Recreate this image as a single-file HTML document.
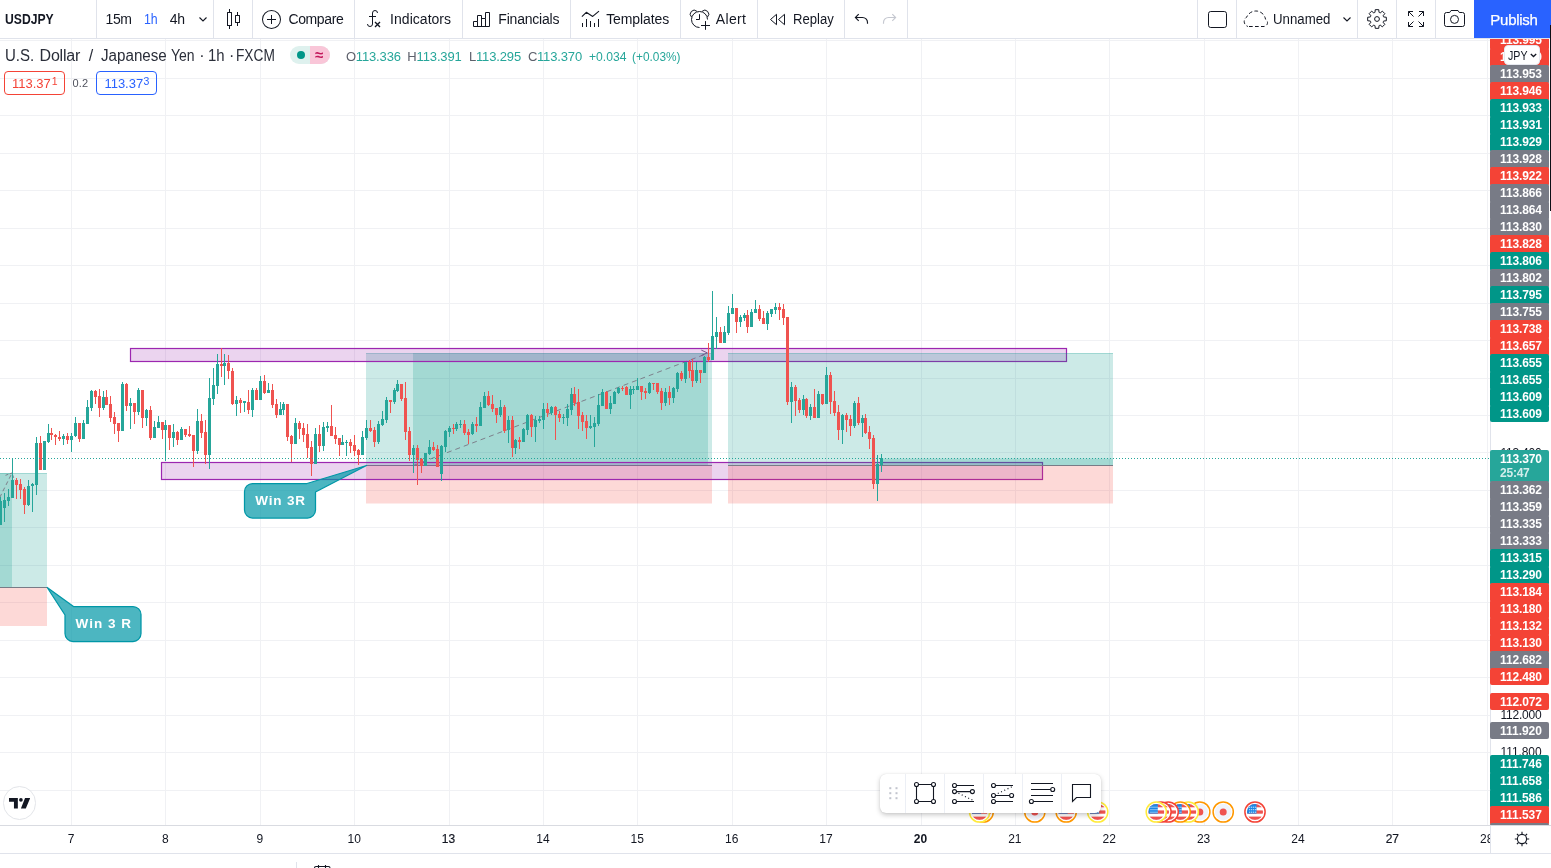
<!DOCTYPE html>
<html lang="en"><head><meta charset="utf-8"><title>USDJPY 113.370 — chart</title>
<style>
*{box-sizing:border-box;margin:0;padding:0}
html,body{width:1551px;height:868px;overflow:hidden;background:#fff}
body{font-family:"Liberation Sans",sans-serif;color:#131722;position:relative}
.t{position:absolute;white-space:pre;display:block}
#toolbar{position:absolute;left:0;top:0;width:1551px;height:39px;background:#fff;border-bottom:1px solid #e0e3eb;z-index:5}
#toolbar .sep{position:absolute;top:0;width:1px;height:38px;background:#e0e3eb}
#toolbar svg{position:absolute;overflow:visible}
#publish{position:absolute;left:1474px;top:0;width:77px;height:38px;background:#2962ff}
#chart{position:absolute;left:0;top:39px;width:1490px;height:786px;overflow:hidden;background:#fff}
#chart svg{position:absolute;left:0;top:0}
#legend{position:absolute;left:0;top:0;width:1490px;height:70px}
#paxis{position:absolute;left:1490px;top:39px;width:61px;height:786px;overflow:hidden;background:#fff}
#paxis .bl{position:absolute;left:0;top:0;width:1px;height:786px;background:#e0e3eb}
.pl{position:absolute;left:0;width:59px;height:17px;border-radius:2px;color:#fff;font-size:12px;line-height:17px}
#taxis{position:absolute;left:0;top:825px;width:1551px;height:29px;background:#fff;border-top:1px solid #d9dbe1;border-bottom:1px solid #e0e3eb}
#bottom{position:absolute;left:0;top:854px;width:1551px;height:14px;background:#fff;overflow:hidden}
</style></head>
<body>
<div id="chart">
<svg width="1490" height="786" viewBox="0 39 1490 786" shape-rendering="crispEdges"><rect x="71" y="39" width="1" height="786" fill="#f0f1f4"/>
<rect x="165" y="39" width="1" height="786" fill="#f0f1f4"/>
<rect x="260" y="39" width="1" height="786" fill="#f0f1f4"/>
<rect x="354" y="39" width="1" height="786" fill="#f0f1f4"/>
<rect x="449" y="39" width="1" height="786" fill="#f0f1f4"/>
<rect x="543" y="39" width="1" height="786" fill="#f0f1f4"/>
<rect x="637" y="39" width="1" height="786" fill="#f0f1f4"/>
<rect x="732" y="39" width="1" height="786" fill="#f0f1f4"/>
<rect x="826" y="39" width="1" height="786" fill="#f0f1f4"/>
<rect x="921" y="39" width="1" height="786" fill="#f0f1f4"/>
<rect x="1015" y="39" width="1" height="786" fill="#f0f1f4"/>
<rect x="1109" y="39" width="1" height="786" fill="#f0f1f4"/>
<rect x="1204" y="39" width="1" height="786" fill="#f0f1f4"/>
<rect x="1298" y="39" width="1" height="786" fill="#f0f1f4"/>
<rect x="1392" y="39" width="1" height="786" fill="#f0f1f4"/>
<rect x="1487" y="39" width="1" height="786" fill="#f0f1f4"/>
<rect x="0" y="40" width="1490" height="1" fill="#f0f1f4"/>
<rect x="0" y="78" width="1490" height="1" fill="#f0f1f4"/>
<rect x="0" y="115" width="1490" height="1" fill="#f0f1f4"/>
<rect x="0" y="153" width="1490" height="1" fill="#f0f1f4"/>
<rect x="0" y="190" width="1490" height="1" fill="#f0f1f4"/>
<rect x="0" y="228" width="1490" height="1" fill="#f0f1f4"/>
<rect x="0" y="265" width="1490" height="1" fill="#f0f1f4"/>
<rect x="0" y="303" width="1490" height="1" fill="#f0f1f4"/>
<rect x="0" y="340" width="1490" height="1" fill="#f0f1f4"/>
<rect x="0" y="378" width="1490" height="1" fill="#f0f1f4"/>
<rect x="0" y="415" width="1490" height="1" fill="#f0f1f4"/>
<rect x="0" y="452" width="1490" height="1" fill="#f0f1f4"/>
<rect x="0" y="490" width="1490" height="1" fill="#f0f1f4"/>
<rect x="0" y="527" width="1490" height="1" fill="#f0f1f4"/>
<rect x="0" y="565" width="1490" height="1" fill="#f0f1f4"/>
<rect x="0" y="602" width="1490" height="1" fill="#f0f1f4"/>
<rect x="0" y="640" width="1490" height="1" fill="#f0f1f4"/>
<rect x="0" y="677" width="1490" height="1" fill="#f0f1f4"/>
<rect x="0" y="715" width="1490" height="1" fill="#f0f1f4"/>
<rect x="0" y="752" width="1490" height="1" fill="#f0f1f4"/>
<rect x="0" y="790" width="1490" height="1" fill="#f0f1f4"/>
<g shape-rendering="geometricPrecision"><rect x="0.00" y="473.00" width="47.00" height="114.00" fill="rgba(0,150,136,0.2)" />
<rect x="0.00" y="473.00" width="12.00" height="114.00" fill="rgba(0,150,136,0.2)" />
<rect x="0.00" y="588.00" width="47.00" height="38.00" fill="rgba(244,67,54,0.2)" />
<rect x="0.00" y="473.00" width="47.00" height="1.00" fill="rgba(0,150,136,0.22)" />
<rect x="0" y="587" width="47" height="1" fill="#787b86"/>
<path d="M-6.500 510L12 473" stroke="#7d808b" stroke-width="1" stroke-dasharray="4 3" fill="none"/>
<path d="M5.500 475.300L12 473L14.300 479.500" stroke="#7d808b" stroke-width="1" stroke-dasharray="3 1.500" fill="none"/>
<rect x="366.00" y="353.00" width="346.00" height="112.00" fill="rgba(0,150,136,0.2)" />
<rect x="413.00" y="353.00" width="295.00" height="112.00" fill="rgba(0,150,136,0.2)" />
<rect x="366.00" y="466.00" width="346.00" height="37.50" fill="rgba(244,67,54,0.2)" />
<rect x="366.00" y="353.00" width="346.00" height="1.00" fill="rgba(0,150,136,0.22)" />
<rect x="366" y="465" width="346" height="1" fill="#787b86"/>
<path d="M413.300 465.500L707.700 353.300" stroke="#7d808b" stroke-width="1" stroke-dasharray="5 4" fill="none"/>
<path d="M701.300 350.100L707.300 352.900L701.300 355.500" stroke="#6f6280" stroke-width="1" fill="none"/>
<rect x="130.5" y="348.5" width="936" height="13" fill="rgba(156,39,176,0.2)" stroke="#9c27b0" stroke-width="1.2"/>
<rect x="161.5" y="462.5" width="881" height="17" fill="rgba(156,39,176,0.2)" stroke="#9c27b0" stroke-width="1.2"/>
<rect x="728.00" y="353.00" width="385.00" height="112.00" fill="rgba(0,150,136,0.2)" />
<rect x="882.00" y="458.50" width="231.00" height="6.50" fill="rgba(0,150,136,0.2)" />
<rect x="728.00" y="466.00" width="385.00" height="37.50" fill="rgba(244,67,54,0.2)" />
<rect x="728.00" y="353.00" width="385.00" height="1.00" fill="rgba(0,150,136,0.22)" />
<rect x="728" y="465" width="385" height="1" fill="#787b86"/>
<path d="M252.500 483.500H307L366.500 465.500L315.500 492V510a8 8 0 0 1-8 8H252.500a8 8 0 0 1-8-8V491.500a8 8 0 0 1 8-8z" fill="rgba(0,151,167,0.7)" stroke="#0097a7" stroke-width="1.250" stroke-linejoin="round"/>
<path d="M73.500 606.500L47.200 587.500L65 615V633.500a8 8 0 0 0 8 8H133a8 8 0 0 0 8-8V614.500a8 8 0 0 0-8-8z" fill="rgba(0,151,167,0.7)" stroke="#0097a7" stroke-width="1.250" stroke-linejoin="round"/></g>
<rect x="0" y="497" width="1" height="28" fill="#26a69a"/>
<rect x="-1" y="501" width="3" height="24" fill="#26a69a"/>
<rect x="4" y="493" width="1" height="29" fill="#26a69a"/>
<rect x="3" y="500" width="3" height="8" fill="#26a69a"/>
<rect x="8" y="489" width="1" height="17" fill="#26a69a"/>
<rect x="7" y="497" width="3" height="4" fill="#26a69a"/>
<rect x="12" y="458" width="1" height="40" fill="#26a69a"/>
<rect x="11" y="480" width="3" height="18" fill="#26a69a"/>
<rect x="16" y="478" width="1" height="21" fill="#ef5350"/>
<rect x="15" y="480" width="3" height="5" fill="#ef5350"/>
<rect x="20" y="479" width="1" height="20" fill="#ef5350"/>
<rect x="19" y="484" width="3" height="6" fill="#ef5350"/>
<rect x="24" y="487" width="1" height="27" fill="#ef5350"/>
<rect x="23" y="489" width="3" height="16" fill="#ef5350"/>
<rect x="28" y="480" width="1" height="26" fill="#26a69a"/>
<rect x="27" y="486" width="3" height="19" fill="#26a69a"/>
<rect x="32" y="483" width="1" height="29" fill="#26a69a"/>
<rect x="31" y="484" width="3" height="2" fill="#26a69a"/>
<rect x="36" y="437" width="1" height="58" fill="#26a69a"/>
<rect x="35" y="443" width="3" height="42" fill="#26a69a"/>
<rect x="40" y="436" width="1" height="34" fill="#ef5350"/>
<rect x="39" y="443" width="3" height="27" fill="#ef5350"/>
<rect x="44" y="441" width="1" height="29" fill="#26a69a"/>
<rect x="43" y="441" width="3" height="29" fill="#26a69a"/>
<rect x="48" y="424" width="1" height="19" fill="#26a69a"/>
<rect x="47" y="433" width="3" height="9" fill="#26a69a"/>
<rect x="51" y="428" width="1" height="12" fill="#ef5350"/>
<rect x="50" y="433" width="3" height="2" fill="#ef5350"/>
<rect x="55" y="434" width="1" height="11" fill="#ef5350"/>
<rect x="54" y="435" width="3" height="2" fill="#ef5350"/>
<rect x="59" y="431" width="1" height="10" fill="#ef5350"/>
<rect x="58" y="437" width="3" height="2" fill="#ef5350"/>
<rect x="63" y="434" width="1" height="11" fill="#26a69a"/>
<rect x="62" y="436" width="3" height="3" fill="#26a69a"/>
<rect x="67" y="433" width="1" height="11" fill="#ef5350"/>
<rect x="66" y="436" width="3" height="4" fill="#ef5350"/>
<rect x="71" y="433" width="1" height="19" fill="#26a69a"/>
<rect x="70" y="436" width="3" height="4" fill="#26a69a"/>
<rect x="75" y="417" width="1" height="20" fill="#26a69a"/>
<rect x="74" y="423" width="3" height="13" fill="#26a69a"/>
<rect x="79" y="423" width="1" height="19" fill="#ef5350"/>
<rect x="78" y="423" width="3" height="16" fill="#ef5350"/>
<rect x="83" y="420" width="1" height="19" fill="#26a69a"/>
<rect x="82" y="423" width="3" height="16" fill="#26a69a"/>
<rect x="87" y="400" width="1" height="24" fill="#26a69a"/>
<rect x="86" y="407" width="3" height="17" fill="#26a69a"/>
<rect x="91" y="390" width="1" height="21" fill="#26a69a"/>
<rect x="90" y="391" width="3" height="17" fill="#26a69a"/>
<rect x="95" y="390" width="1" height="14" fill="#ef5350"/>
<rect x="94" y="391" width="3" height="6" fill="#ef5350"/>
<rect x="99" y="389" width="1" height="28" fill="#ef5350"/>
<rect x="98" y="396" width="3" height="12" fill="#ef5350"/>
<rect x="103" y="391" width="1" height="19" fill="#26a69a"/>
<rect x="102" y="397" width="3" height="11" fill="#26a69a"/>
<rect x="106" y="390" width="1" height="15" fill="#ef5350"/>
<rect x="105" y="397" width="3" height="8" fill="#ef5350"/>
<rect x="110" y="396" width="1" height="26" fill="#ef5350"/>
<rect x="109" y="404" width="3" height="14" fill="#ef5350"/>
<rect x="114" y="412" width="1" height="22" fill="#ef5350"/>
<rect x="113" y="417" width="3" height="7" fill="#ef5350"/>
<rect x="118" y="423" width="1" height="19" fill="#ef5350"/>
<rect x="117" y="423" width="3" height="8" fill="#ef5350"/>
<rect x="122" y="382" width="1" height="49" fill="#26a69a"/>
<rect x="121" y="384" width="3" height="47" fill="#26a69a"/>
<rect x="126" y="383" width="1" height="28" fill="#ef5350"/>
<rect x="125" y="384" width="3" height="22" fill="#ef5350"/>
<rect x="130" y="398" width="1" height="31" fill="#26a69a"/>
<rect x="129" y="403" width="3" height="3" fill="#26a69a"/>
<rect x="134" y="403" width="1" height="21" fill="#ef5350"/>
<rect x="133" y="403" width="3" height="9" fill="#ef5350"/>
<rect x="138" y="388" width="1" height="27" fill="#26a69a"/>
<rect x="137" y="390" width="3" height="22" fill="#26a69a"/>
<rect x="142" y="390" width="1" height="38" fill="#ef5350"/>
<rect x="141" y="390" width="3" height="28" fill="#ef5350"/>
<rect x="146" y="409" width="1" height="17" fill="#26a69a"/>
<rect x="145" y="410" width="3" height="8" fill="#26a69a"/>
<rect x="150" y="406" width="1" height="34" fill="#ef5350"/>
<rect x="149" y="410" width="3" height="28" fill="#ef5350"/>
<rect x="154" y="421" width="1" height="17" fill="#26a69a"/>
<rect x="153" y="427" width="3" height="11" fill="#26a69a"/>
<rect x="158" y="416" width="1" height="12" fill="#26a69a"/>
<rect x="157" y="422" width="3" height="6" fill="#26a69a"/>
<rect x="162" y="422" width="1" height="17" fill="#ef5350"/>
<rect x="161" y="422" width="3" height="8" fill="#ef5350"/>
<rect x="165" y="420" width="1" height="41" fill="#26a69a"/>
<rect x="164" y="425" width="3" height="5" fill="#26a69a"/>
<rect x="169" y="425" width="1" height="25" fill="#ef5350"/>
<rect x="168" y="425" width="3" height="13" fill="#ef5350"/>
<rect x="173" y="424" width="1" height="23" fill="#26a69a"/>
<rect x="172" y="432" width="3" height="6" fill="#26a69a"/>
<rect x="177" y="431" width="1" height="14" fill="#ef5350"/>
<rect x="176" y="432" width="3" height="8" fill="#ef5350"/>
<rect x="181" y="427" width="1" height="13" fill="#26a69a"/>
<rect x="180" y="429" width="3" height="11" fill="#26a69a"/>
<rect x="185" y="429" width="1" height="8" fill="#ef5350"/>
<rect x="184" y="429" width="3" height="6" fill="#ef5350"/>
<rect x="189" y="426" width="1" height="11" fill="#ef5350"/>
<rect x="188" y="434" width="3" height="2" fill="#ef5350"/>
<rect x="193" y="435" width="1" height="32" fill="#ef5350"/>
<rect x="192" y="435" width="3" height="16" fill="#ef5350"/>
<rect x="197" y="409" width="1" height="45" fill="#26a69a"/>
<rect x="196" y="421" width="3" height="30" fill="#26a69a"/>
<rect x="201" y="414" width="1" height="24" fill="#ef5350"/>
<rect x="200" y="421" width="3" height="12" fill="#ef5350"/>
<rect x="205" y="420" width="1" height="44" fill="#ef5350"/>
<rect x="204" y="432" width="3" height="23" fill="#ef5350"/>
<rect x="209" y="378" width="1" height="91" fill="#26a69a"/>
<rect x="208" y="398" width="3" height="57" fill="#26a69a"/>
<rect x="213" y="368" width="1" height="37" fill="#26a69a"/>
<rect x="212" y="385" width="3" height="14" fill="#26a69a"/>
<rect x="217" y="354" width="1" height="40" fill="#26a69a"/>
<rect x="216" y="364" width="3" height="22" fill="#26a69a"/>
<rect x="221" y="348" width="1" height="29" fill="#ef5350"/>
<rect x="220" y="364" width="3" height="2" fill="#ef5350"/>
<rect x="224" y="354" width="1" height="31" fill="#26a69a"/>
<rect x="223" y="363" width="3" height="3" fill="#26a69a"/>
<rect x="228" y="355" width="1" height="24" fill="#ef5350"/>
<rect x="227" y="363" width="3" height="8" fill="#ef5350"/>
<rect x="232" y="368" width="1" height="37" fill="#ef5350"/>
<rect x="231" y="371" width="3" height="33" fill="#ef5350"/>
<rect x="236" y="396" width="1" height="20" fill="#26a69a"/>
<rect x="235" y="400" width="3" height="4" fill="#26a69a"/>
<rect x="240" y="398" width="1" height="15" fill="#ef5350"/>
<rect x="239" y="400" width="3" height="3" fill="#ef5350"/>
<rect x="244" y="401" width="1" height="11" fill="#26a69a"/>
<rect x="243" y="401" width="3" height="2" fill="#26a69a"/>
<rect x="248" y="390" width="1" height="24" fill="#ef5350"/>
<rect x="247" y="402" width="3" height="8" fill="#ef5350"/>
<rect x="252" y="388" width="1" height="29" fill="#26a69a"/>
<rect x="251" y="390" width="3" height="20" fill="#26a69a"/>
<rect x="256" y="388" width="1" height="12" fill="#ef5350"/>
<rect x="255" y="390" width="3" height="10" fill="#ef5350"/>
<rect x="260" y="376" width="1" height="24" fill="#26a69a"/>
<rect x="259" y="381" width="3" height="19" fill="#26a69a"/>
<rect x="264" y="375" width="1" height="19" fill="#ef5350"/>
<rect x="263" y="381" width="3" height="12" fill="#ef5350"/>
<rect x="268" y="383" width="1" height="10" fill="#26a69a"/>
<rect x="267" y="390" width="3" height="3" fill="#26a69a"/>
<rect x="272" y="384" width="1" height="24" fill="#ef5350"/>
<rect x="271" y="390" width="3" height="15" fill="#ef5350"/>
<rect x="276" y="399" width="1" height="19" fill="#ef5350"/>
<rect x="275" y="404" width="3" height="11" fill="#ef5350"/>
<rect x="280" y="402" width="1" height="13" fill="#26a69a"/>
<rect x="279" y="409" width="3" height="6" fill="#26a69a"/>
<rect x="283" y="402" width="1" height="13" fill="#26a69a"/>
<rect x="282" y="404" width="3" height="6" fill="#26a69a"/>
<rect x="287" y="404" width="1" height="37" fill="#ef5350"/>
<rect x="286" y="404" width="3" height="33" fill="#ef5350"/>
<rect x="291" y="435" width="1" height="27" fill="#ef5350"/>
<rect x="290" y="436" width="3" height="8" fill="#ef5350"/>
<rect x="295" y="418" width="1" height="26" fill="#26a69a"/>
<rect x="294" y="423" width="3" height="21" fill="#26a69a"/>
<rect x="299" y="421" width="1" height="18" fill="#ef5350"/>
<rect x="298" y="423" width="3" height="6" fill="#ef5350"/>
<rect x="303" y="423" width="1" height="19" fill="#ef5350"/>
<rect x="302" y="428" width="3" height="7" fill="#ef5350"/>
<rect x="307" y="424" width="1" height="34" fill="#ef5350"/>
<rect x="306" y="434" width="3" height="14" fill="#ef5350"/>
<rect x="311" y="441" width="1" height="35" fill="#ef5350"/>
<rect x="310" y="447" width="3" height="17" fill="#ef5350"/>
<rect x="315" y="428" width="1" height="36" fill="#26a69a"/>
<rect x="314" y="434" width="3" height="30" fill="#26a69a"/>
<rect x="319" y="425" width="1" height="27" fill="#ef5350"/>
<rect x="318" y="434" width="3" height="12" fill="#ef5350"/>
<rect x="323" y="422" width="1" height="29" fill="#26a69a"/>
<rect x="322" y="427" width="3" height="19" fill="#26a69a"/>
<rect x="327" y="422" width="1" height="10" fill="#26a69a"/>
<rect x="326" y="426" width="3" height="2" fill="#26a69a"/>
<rect x="331" y="405" width="1" height="31" fill="#ef5350"/>
<rect x="330" y="426" width="3" height="10" fill="#ef5350"/>
<rect x="335" y="427" width="1" height="17" fill="#ef5350"/>
<rect x="334" y="435" width="3" height="4" fill="#ef5350"/>
<rect x="339" y="438" width="1" height="18" fill="#ef5350"/>
<rect x="338" y="438" width="3" height="7" fill="#ef5350"/>
<rect x="342" y="435" width="1" height="10" fill="#26a69a"/>
<rect x="341" y="442" width="3" height="3" fill="#26a69a"/>
<rect x="346" y="440" width="1" height="16" fill="#26a69a"/>
<rect x="345" y="442" width="3" height="1" fill="#26a69a"/>
<rect x="350" y="439" width="1" height="14" fill="#ef5350"/>
<rect x="349" y="442" width="3" height="4" fill="#ef5350"/>
<rect x="354" y="435" width="1" height="21" fill="#ef5350"/>
<rect x="353" y="445" width="3" height="6" fill="#ef5350"/>
<rect x="358" y="449" width="1" height="16" fill="#ef5350"/>
<rect x="357" y="450" width="3" height="5" fill="#ef5350"/>
<rect x="362" y="431" width="1" height="24" fill="#26a69a"/>
<rect x="361" y="437" width="3" height="18" fill="#26a69a"/>
<rect x="366" y="420" width="1" height="20" fill="#26a69a"/>
<rect x="365" y="428" width="3" height="10" fill="#26a69a"/>
<rect x="370" y="420" width="1" height="12" fill="#ef5350"/>
<rect x="369" y="428" width="3" height="3" fill="#ef5350"/>
<rect x="374" y="427" width="1" height="20" fill="#ef5350"/>
<rect x="373" y="430" width="3" height="12" fill="#ef5350"/>
<rect x="378" y="421" width="1" height="23" fill="#26a69a"/>
<rect x="377" y="424" width="3" height="18" fill="#26a69a"/>
<rect x="382" y="411" width="1" height="15" fill="#26a69a"/>
<rect x="381" y="419" width="3" height="6" fill="#26a69a"/>
<rect x="386" y="397" width="1" height="26" fill="#26a69a"/>
<rect x="385" y="400" width="3" height="20" fill="#26a69a"/>
<rect x="390" y="400" width="1" height="13" fill="#ef5350"/>
<rect x="389" y="400" width="3" height="2" fill="#ef5350"/>
<rect x="394" y="388" width="1" height="16" fill="#26a69a"/>
<rect x="393" y="390" width="3" height="12" fill="#26a69a"/>
<rect x="397" y="380" width="1" height="12" fill="#26a69a"/>
<rect x="396" y="384" width="3" height="7" fill="#26a69a"/>
<rect x="401" y="384" width="1" height="17" fill="#ef5350"/>
<rect x="400" y="384" width="3" height="15" fill="#ef5350"/>
<rect x="405" y="382" width="1" height="58" fill="#ef5350"/>
<rect x="404" y="398" width="3" height="34" fill="#ef5350"/>
<rect x="409" y="427" width="1" height="34" fill="#ef5350"/>
<rect x="408" y="431" width="3" height="24" fill="#ef5350"/>
<rect x="413" y="445" width="1" height="28" fill="#26a69a"/>
<rect x="412" y="448" width="3" height="7" fill="#26a69a"/>
<rect x="417" y="445" width="1" height="40" fill="#ef5350"/>
<rect x="416" y="448" width="3" height="12" fill="#ef5350"/>
<rect x="421" y="458" width="1" height="15" fill="#ef5350"/>
<rect x="420" y="459" width="3" height="7" fill="#ef5350"/>
<rect x="425" y="453" width="1" height="13" fill="#26a69a"/>
<rect x="424" y="453" width="3" height="13" fill="#26a69a"/>
<rect x="429" y="440" width="1" height="15" fill="#26a69a"/>
<rect x="428" y="447" width="3" height="7" fill="#26a69a"/>
<rect x="433" y="442" width="1" height="9" fill="#ef5350"/>
<rect x="432" y="447" width="3" height="3" fill="#ef5350"/>
<rect x="437" y="445" width="1" height="22" fill="#ef5350"/>
<rect x="436" y="449" width="3" height="18" fill="#ef5350"/>
<rect x="441" y="445" width="1" height="36" fill="#26a69a"/>
<rect x="440" y="446" width="3" height="28" fill="#26a69a"/>
<rect x="445" y="430" width="1" height="22" fill="#26a69a"/>
<rect x="444" y="431" width="3" height="16" fill="#26a69a"/>
<rect x="449" y="426" width="1" height="11" fill="#26a69a"/>
<rect x="448" y="428" width="3" height="4" fill="#26a69a"/>
<rect x="453" y="424" width="1" height="10" fill="#ef5350"/>
<rect x="452" y="428" width="3" height="1" fill="#ef5350"/>
<rect x="456" y="422" width="1" height="9" fill="#26a69a"/>
<rect x="455" y="424" width="3" height="5" fill="#26a69a"/>
<rect x="460" y="420" width="1" height="8" fill="#26a69a"/>
<rect x="459" y="424" width="3" height="1" fill="#26a69a"/>
<rect x="464" y="420" width="1" height="15" fill="#ef5350"/>
<rect x="463" y="424" width="3" height="9" fill="#ef5350"/>
<rect x="468" y="429" width="1" height="15" fill="#ef5350"/>
<rect x="467" y="432" width="3" height="3" fill="#ef5350"/>
<rect x="472" y="422" width="1" height="13" fill="#26a69a"/>
<rect x="471" y="424" width="3" height="10" fill="#26a69a"/>
<rect x="476" y="417" width="1" height="15" fill="#ef5350"/>
<rect x="475" y="424" width="3" height="2" fill="#ef5350"/>
<rect x="480" y="402" width="1" height="24" fill="#26a69a"/>
<rect x="479" y="407" width="3" height="19" fill="#26a69a"/>
<rect x="484" y="392" width="1" height="16" fill="#26a69a"/>
<rect x="483" y="396" width="3" height="12" fill="#26a69a"/>
<rect x="488" y="391" width="1" height="15" fill="#ef5350"/>
<rect x="487" y="396" width="3" height="9" fill="#ef5350"/>
<rect x="492" y="395" width="1" height="17" fill="#ef5350"/>
<rect x="491" y="404" width="3" height="5" fill="#ef5350"/>
<rect x="496" y="408" width="1" height="15" fill="#ef5350"/>
<rect x="495" y="408" width="3" height="7" fill="#ef5350"/>
<rect x="500" y="400" width="1" height="17" fill="#26a69a"/>
<rect x="499" y="407" width="3" height="8" fill="#26a69a"/>
<rect x="504" y="405" width="1" height="28" fill="#ef5350"/>
<rect x="503" y="407" width="3" height="24" fill="#ef5350"/>
<rect x="508" y="416" width="1" height="27" fill="#26a69a"/>
<rect x="507" y="420" width="3" height="10" fill="#26a69a"/>
<rect x="512" y="416" width="1" height="41" fill="#ef5350"/>
<rect x="511" y="420" width="3" height="28" fill="#ef5350"/>
<rect x="515" y="439" width="1" height="15" fill="#26a69a"/>
<rect x="514" y="440" width="3" height="8" fill="#26a69a"/>
<rect x="519" y="437" width="1" height="12" fill="#ef5350"/>
<rect x="518" y="440" width="3" height="2" fill="#ef5350"/>
<rect x="523" y="428" width="1" height="14" fill="#26a69a"/>
<rect x="522" y="429" width="3" height="13" fill="#26a69a"/>
<rect x="527" y="414" width="1" height="21" fill="#26a69a"/>
<rect x="526" y="415" width="3" height="15" fill="#26a69a"/>
<rect x="531" y="414" width="1" height="23" fill="#ef5350"/>
<rect x="530" y="415" width="3" height="12" fill="#ef5350"/>
<rect x="535" y="416" width="1" height="26" fill="#26a69a"/>
<rect x="534" y="420" width="3" height="7" fill="#26a69a"/>
<rect x="539" y="416" width="1" height="7" fill="#26a69a"/>
<rect x="538" y="419" width="3" height="2" fill="#26a69a"/>
<rect x="543" y="403" width="1" height="26" fill="#26a69a"/>
<rect x="542" y="409" width="3" height="11" fill="#26a69a"/>
<rect x="547" y="403" width="1" height="14" fill="#ef5350"/>
<rect x="546" y="409" width="3" height="4" fill="#ef5350"/>
<rect x="551" y="406" width="1" height="9" fill="#26a69a"/>
<rect x="550" y="407" width="3" height="6" fill="#26a69a"/>
<rect x="555" y="406" width="1" height="34" fill="#ef5350"/>
<rect x="554" y="407" width="3" height="8" fill="#ef5350"/>
<rect x="559" y="411" width="1" height="11" fill="#ef5350"/>
<rect x="558" y="414" width="3" height="4" fill="#ef5350"/>
<rect x="563" y="414" width="1" height="10" fill="#26a69a"/>
<rect x="562" y="417" width="3" height="1" fill="#26a69a"/>
<rect x="567" y="404" width="1" height="22" fill="#26a69a"/>
<rect x="566" y="409" width="3" height="9" fill="#26a69a"/>
<rect x="571" y="388" width="1" height="27" fill="#26a69a"/>
<rect x="570" y="394" width="3" height="16" fill="#26a69a"/>
<rect x="574" y="387" width="1" height="19" fill="#ef5350"/>
<rect x="573" y="394" width="3" height="9" fill="#ef5350"/>
<rect x="578" y="389" width="1" height="40" fill="#ef5350"/>
<rect x="577" y="402" width="3" height="14" fill="#ef5350"/>
<rect x="582" y="412" width="1" height="19" fill="#ef5350"/>
<rect x="581" y="415" width="3" height="7" fill="#ef5350"/>
<rect x="586" y="415" width="1" height="24" fill="#ef5350"/>
<rect x="585" y="421" width="3" height="7" fill="#ef5350"/>
<rect x="590" y="415" width="1" height="14" fill="#26a69a"/>
<rect x="589" y="426" width="3" height="2" fill="#26a69a"/>
<rect x="594" y="417" width="1" height="30" fill="#26a69a"/>
<rect x="593" y="423" width="3" height="4" fill="#26a69a"/>
<rect x="598" y="394" width="1" height="32" fill="#26a69a"/>
<rect x="597" y="405" width="3" height="19" fill="#26a69a"/>
<rect x="602" y="389" width="1" height="17" fill="#26a69a"/>
<rect x="601" y="392" width="3" height="14" fill="#26a69a"/>
<rect x="606" y="391" width="1" height="18" fill="#ef5350"/>
<rect x="605" y="392" width="3" height="17" fill="#ef5350"/>
<rect x="610" y="396" width="1" height="18" fill="#26a69a"/>
<rect x="609" y="403" width="3" height="6" fill="#26a69a"/>
<rect x="614" y="391" width="1" height="13" fill="#26a69a"/>
<rect x="613" y="392" width="3" height="12" fill="#26a69a"/>
<rect x="618" y="387" width="1" height="7" fill="#26a69a"/>
<rect x="617" y="388" width="3" height="5" fill="#26a69a"/>
<rect x="622" y="386" width="1" height="5" fill="#ef5350"/>
<rect x="621" y="388" width="3" height="1" fill="#ef5350"/>
<rect x="626" y="386" width="1" height="9" fill="#ef5350"/>
<rect x="625" y="387" width="3" height="8" fill="#ef5350"/>
<rect x="630" y="386" width="1" height="23" fill="#26a69a"/>
<rect x="629" y="389" width="3" height="6" fill="#26a69a"/>
<rect x="633" y="386" width="1" height="8" fill="#26a69a"/>
<rect x="632" y="389" width="3" height="1" fill="#26a69a"/>
<rect x="637" y="378" width="1" height="12" fill="#26a69a"/>
<rect x="636" y="386" width="3" height="4" fill="#26a69a"/>
<rect x="641" y="386" width="1" height="14" fill="#ef5350"/>
<rect x="640" y="386" width="3" height="6" fill="#ef5350"/>
<rect x="645" y="388" width="1" height="11" fill="#ef5350"/>
<rect x="644" y="391" width="3" height="2" fill="#ef5350"/>
<rect x="649" y="382" width="1" height="12" fill="#26a69a"/>
<rect x="648" y="383" width="3" height="10" fill="#26a69a"/>
<rect x="653" y="383" width="1" height="7" fill="#ef5350"/>
<rect x="652" y="383" width="3" height="1" fill="#ef5350"/>
<rect x="657" y="383" width="1" height="11" fill="#ef5350"/>
<rect x="656" y="383" width="3" height="9" fill="#ef5350"/>
<rect x="661" y="388" width="1" height="22" fill="#ef5350"/>
<rect x="660" y="391" width="3" height="12" fill="#ef5350"/>
<rect x="665" y="388" width="1" height="18" fill="#26a69a"/>
<rect x="664" y="392" width="3" height="11" fill="#26a69a"/>
<rect x="669" y="386" width="1" height="19" fill="#ef5350"/>
<rect x="668" y="392" width="3" height="6" fill="#ef5350"/>
<rect x="673" y="387" width="1" height="16" fill="#26a69a"/>
<rect x="672" y="388" width="3" height="10" fill="#26a69a"/>
<rect x="677" y="372" width="1" height="20" fill="#26a69a"/>
<rect x="676" y="373" width="3" height="16" fill="#26a69a"/>
<rect x="681" y="371" width="1" height="10" fill="#ef5350"/>
<rect x="680" y="373" width="3" height="6" fill="#ef5350"/>
<rect x="685" y="362" width="1" height="21" fill="#26a69a"/>
<rect x="684" y="362" width="3" height="17" fill="#26a69a"/>
<rect x="689" y="360" width="1" height="18" fill="#ef5350"/>
<rect x="688" y="362" width="3" height="9" fill="#ef5350"/>
<rect x="692" y="359" width="1" height="28" fill="#ef5350"/>
<rect x="691" y="370" width="3" height="11" fill="#ef5350"/>
<rect x="696" y="362" width="1" height="21" fill="#26a69a"/>
<rect x="695" y="370" width="3" height="11" fill="#26a69a"/>
<rect x="700" y="370" width="1" height="13" fill="#ef5350"/>
<rect x="699" y="370" width="3" height="3" fill="#ef5350"/>
<rect x="704" y="356" width="1" height="17" fill="#26a69a"/>
<rect x="703" y="357" width="3" height="16" fill="#26a69a"/>
<rect x="708" y="343" width="1" height="19" fill="#ef5350"/>
<rect x="707" y="357" width="3" height="3" fill="#ef5350"/>
<rect x="712" y="291" width="1" height="69" fill="#26a69a"/>
<rect x="711" y="336" width="3" height="24" fill="#26a69a"/>
<rect x="716" y="317" width="1" height="32" fill="#26a69a"/>
<rect x="715" y="332" width="3" height="5" fill="#26a69a"/>
<rect x="720" y="327" width="1" height="16" fill="#ef5350"/>
<rect x="719" y="332" width="3" height="11" fill="#ef5350"/>
<rect x="724" y="326" width="1" height="17" fill="#26a69a"/>
<rect x="723" y="332" width="3" height="11" fill="#26a69a"/>
<rect x="728" y="306" width="1" height="29" fill="#26a69a"/>
<rect x="727" y="313" width="3" height="20" fill="#26a69a"/>
<rect x="732" y="294" width="1" height="20" fill="#26a69a"/>
<rect x="731" y="308" width="3" height="6" fill="#26a69a"/>
<rect x="736" y="308" width="1" height="25" fill="#ef5350"/>
<rect x="735" y="308" width="3" height="14" fill="#ef5350"/>
<rect x="740" y="315" width="1" height="12" fill="#26a69a"/>
<rect x="739" y="317" width="3" height="5" fill="#26a69a"/>
<rect x="744" y="313" width="1" height="8" fill="#26a69a"/>
<rect x="743" y="315" width="3" height="3" fill="#26a69a"/>
<rect x="747" y="310" width="1" height="23" fill="#ef5350"/>
<rect x="746" y="315" width="3" height="12" fill="#ef5350"/>
<rect x="751" y="309" width="1" height="18" fill="#26a69a"/>
<rect x="750" y="312" width="3" height="15" fill="#26a69a"/>
<rect x="755" y="300" width="1" height="13" fill="#26a69a"/>
<rect x="754" y="309" width="3" height="4" fill="#26a69a"/>
<rect x="759" y="305" width="1" height="16" fill="#ef5350"/>
<rect x="758" y="309" width="3" height="10" fill="#ef5350"/>
<rect x="763" y="311" width="1" height="13" fill="#ef5350"/>
<rect x="762" y="318" width="3" height="6" fill="#ef5350"/>
<rect x="767" y="311" width="1" height="19" fill="#26a69a"/>
<rect x="766" y="313" width="3" height="11" fill="#26a69a"/>
<rect x="771" y="309" width="1" height="8" fill="#26a69a"/>
<rect x="770" y="309" width="3" height="5" fill="#26a69a"/>
<rect x="775" y="303" width="1" height="11" fill="#26a69a"/>
<rect x="774" y="307" width="3" height="3" fill="#26a69a"/>
<rect x="779" y="303" width="1" height="17" fill="#ef5350"/>
<rect x="778" y="307" width="3" height="3" fill="#ef5350"/>
<rect x="783" y="304" width="1" height="21" fill="#ef5350"/>
<rect x="782" y="309" width="3" height="9" fill="#ef5350"/>
<rect x="787" y="317" width="1" height="88" fill="#ef5350"/>
<rect x="786" y="317" width="3" height="85" fill="#ef5350"/>
<rect x="791" y="382" width="1" height="41" fill="#26a69a"/>
<rect x="790" y="387" width="3" height="15" fill="#26a69a"/>
<rect x="795" y="385" width="1" height="31" fill="#ef5350"/>
<rect x="794" y="387" width="3" height="14" fill="#ef5350"/>
<rect x="799" y="398" width="1" height="15" fill="#ef5350"/>
<rect x="798" y="400" width="3" height="10" fill="#ef5350"/>
<rect x="803" y="395" width="1" height="20" fill="#26a69a"/>
<rect x="802" y="399" width="3" height="11" fill="#26a69a"/>
<rect x="806" y="398" width="1" height="20" fill="#ef5350"/>
<rect x="805" y="399" width="3" height="17" fill="#ef5350"/>
<rect x="810" y="404" width="1" height="16" fill="#26a69a"/>
<rect x="809" y="407" width="3" height="9" fill="#26a69a"/>
<rect x="814" y="389" width="1" height="29" fill="#ef5350"/>
<rect x="813" y="407" width="3" height="11" fill="#ef5350"/>
<rect x="818" y="391" width="1" height="27" fill="#26a69a"/>
<rect x="817" y="394" width="3" height="24" fill="#26a69a"/>
<rect x="822" y="394" width="1" height="11" fill="#ef5350"/>
<rect x="821" y="394" width="3" height="10" fill="#ef5350"/>
<rect x="826" y="367" width="1" height="37" fill="#26a69a"/>
<rect x="825" y="375" width="3" height="29" fill="#26a69a"/>
<rect x="830" y="372" width="1" height="42" fill="#ef5350"/>
<rect x="829" y="375" width="3" height="27" fill="#ef5350"/>
<rect x="834" y="391" width="1" height="25" fill="#ef5350"/>
<rect x="833" y="401" width="3" height="12" fill="#ef5350"/>
<rect x="838" y="405" width="1" height="35" fill="#ef5350"/>
<rect x="837" y="412" width="3" height="18" fill="#ef5350"/>
<rect x="842" y="414" width="1" height="30" fill="#26a69a"/>
<rect x="841" y="415" width="3" height="15" fill="#26a69a"/>
<rect x="846" y="413" width="1" height="19" fill="#ef5350"/>
<rect x="845" y="415" width="3" height="5" fill="#ef5350"/>
<rect x="850" y="415" width="1" height="21" fill="#ef5350"/>
<rect x="849" y="419" width="3" height="7" fill="#ef5350"/>
<rect x="854" y="401" width="1" height="27" fill="#26a69a"/>
<rect x="853" y="403" width="3" height="23" fill="#26a69a"/>
<rect x="858" y="397" width="1" height="28" fill="#ef5350"/>
<rect x="857" y="403" width="3" height="20" fill="#ef5350"/>
<rect x="862" y="415" width="1" height="22" fill="#26a69a"/>
<rect x="861" y="418" width="3" height="5" fill="#26a69a"/>
<rect x="865" y="414" width="1" height="20" fill="#ef5350"/>
<rect x="864" y="418" width="3" height="15" fill="#ef5350"/>
<rect x="869" y="426" width="1" height="23" fill="#ef5350"/>
<rect x="868" y="432" width="3" height="7" fill="#ef5350"/>
<rect x="873" y="435" width="1" height="54" fill="#ef5350"/>
<rect x="872" y="438" width="3" height="46" fill="#ef5350"/>
<rect x="877" y="455" width="1" height="46" fill="#26a69a"/>
<rect x="876" y="464" width="3" height="20" fill="#26a69a"/>
<rect x="881" y="454" width="1" height="18" fill="#26a69a"/>
<rect x="880" y="458" width="3" height="7" fill="#26a69a"/>
<path d="M0 458.500H1490" stroke="#26a69a" stroke-width="1" stroke-dasharray="1 2" fill="none"/><g shape-rendering="geometricPrecision" font-family="Liberation Sans, sans-serif" font-weight="bold" font-size="13.500" fill="#fff"><text x="255.300" y="505.200" textLength="49.800" lengthAdjust="spacing">Win 3R</text><text x="75.500" y="628.200" textLength="55.500" lengthAdjust="spacing">Win 3 R</text></g></svg>
<div style="position:absolute;left:2.900px;top:747.200px;width:33.400px;height:33.400px;border-radius:50%;border:1px solid #e3e5e9;background:#fff"></div>
<svg style="left:9.070px;top:759px" width="21.240" height="10.620" viewBox="0 0 36 18"><path fill="#131722" d="M0 0h15v18H8.400V6.400H0zM27.200 0H36L28.500 18H20.200z"/><circle cx="20.200" cy="3.200" r="3.100" fill="#131722"/></svg>
<svg style="left:0;top:0" width="1490" height="786" viewBox="0 39 1490 786"><circle cx="1255" cy="812" r="10.100" fill="#fff" stroke="#f44336" stroke-width="1.500"/><clipPath id="fc0"><circle cx="1255" cy="812" r="8"/></clipPath><g clip-path="url(#fc0)"><rect x="1247" y="804" width="16" height="16" fill="#fff"/><rect x="1247" y="804.00" width="16" height="3.300" fill="#ef5350"/><rect x="1247" y="810.40" width="16" height="3.300" fill="#ef5350"/><rect x="1247" y="816.60" width="16" height="3.300" fill="#ef5350"/><rect x="1247" y="804" width="9.500" height="9.600" fill="#1e88e5"/><rect x="1249.20" y="806.70" width="1" height="1" fill="#fff"/><rect x="1251.20" y="806.70" width="1" height="1" fill="#fff"/><rect x="1253.20" y="806.70" width="1" height="1" fill="#fff"/><rect x="1255.20" y="806.70" width="1" height="1" fill="#fff"/><rect x="1249.20" y="809.20" width="1" height="1" fill="#fff"/><rect x="1251.20" y="809.20" width="1" height="1" fill="#fff"/><rect x="1253.20" y="809.20" width="1" height="1" fill="#fff"/><rect x="1255.20" y="809.20" width="1" height="1" fill="#fff"/><rect x="1249.20" y="811.70" width="1" height="1" fill="#fff"/><rect x="1251.20" y="811.70" width="1" height="1" fill="#fff"/><rect x="1253.20" y="811.70" width="1" height="1" fill="#fff"/><rect x="1255.20" y="811.70" width="1" height="1" fill="#fff"/></g><circle cx="1223.2" cy="812" r="10.100" fill="#fff" stroke="#ff9800" stroke-width="1.500"/><circle cx="1223.2" cy="812" r="8.300" fill="#f0f3fa"/><circle cx="1223.2" cy="812" r="3.500" fill="#ef5350"/><circle cx="1199.8" cy="812" r="10.100" fill="#fff" stroke="#ff9800" stroke-width="1.500"/><circle cx="1199.8" cy="812" r="8.300" fill="#f0f3fa"/><circle cx="1199.8" cy="812" r="3.500" fill="#ef5350"/><circle cx="1188.3" cy="812" r="10.100" fill="#fff" stroke="#ffeb3b" stroke-width="1.500"/><clipPath id="fc3"><circle cx="1188.3" cy="812" r="8"/></clipPath><g clip-path="url(#fc3)"><rect x="1180.3" y="804" width="16" height="16" fill="#fff"/><rect x="1180.3" y="804.00" width="16" height="3.300" fill="#ef5350"/><rect x="1180.3" y="810.40" width="16" height="3.300" fill="#ef5350"/><rect x="1180.3" y="816.60" width="16" height="3.300" fill="#ef5350"/><rect x="1180.3" y="804" width="9.500" height="9.600" fill="#1e88e5"/><rect x="1182.50" y="806.70" width="1" height="1" fill="#fff"/><rect x="1184.50" y="806.70" width="1" height="1" fill="#fff"/><rect x="1186.50" y="806.70" width="1" height="1" fill="#fff"/><rect x="1188.50" y="806.70" width="1" height="1" fill="#fff"/><rect x="1182.50" y="809.20" width="1" height="1" fill="#fff"/><rect x="1184.50" y="809.20" width="1" height="1" fill="#fff"/><rect x="1186.50" y="809.20" width="1" height="1" fill="#fff"/><rect x="1188.50" y="809.20" width="1" height="1" fill="#fff"/><rect x="1182.50" y="811.70" width="1" height="1" fill="#fff"/><rect x="1184.50" y="811.70" width="1" height="1" fill="#fff"/><rect x="1186.50" y="811.70" width="1" height="1" fill="#fff"/><rect x="1188.50" y="811.70" width="1" height="1" fill="#fff"/></g><circle cx="1180.2" cy="812" r="10.100" fill="#fff" stroke="#ff9800" stroke-width="1.500"/><clipPath id="fc4"><circle cx="1180.2" cy="812" r="8"/></clipPath><g clip-path="url(#fc4)"><rect x="1172.2" y="804" width="16" height="16" fill="#fff"/><rect x="1172.2" y="804.00" width="16" height="3.300" fill="#ef5350"/><rect x="1172.2" y="810.40" width="16" height="3.300" fill="#ef5350"/><rect x="1172.2" y="816.60" width="16" height="3.300" fill="#ef5350"/><rect x="1172.2" y="804" width="9.500" height="9.600" fill="#1e88e5"/><rect x="1174.40" y="806.70" width="1" height="1" fill="#fff"/><rect x="1176.40" y="806.70" width="1" height="1" fill="#fff"/><rect x="1178.40" y="806.70" width="1" height="1" fill="#fff"/><rect x="1180.40" y="806.70" width="1" height="1" fill="#fff"/><rect x="1174.40" y="809.20" width="1" height="1" fill="#fff"/><rect x="1176.40" y="809.20" width="1" height="1" fill="#fff"/><rect x="1178.40" y="809.20" width="1" height="1" fill="#fff"/><rect x="1180.40" y="809.20" width="1" height="1" fill="#fff"/><rect x="1174.40" y="811.70" width="1" height="1" fill="#fff"/><rect x="1176.40" y="811.70" width="1" height="1" fill="#fff"/><rect x="1178.40" y="811.70" width="1" height="1" fill="#fff"/><rect x="1180.40" y="811.70" width="1" height="1" fill="#fff"/></g><circle cx="1168.2" cy="812" r="10.100" fill="#fff" stroke="#f44336" stroke-width="1.500"/><clipPath id="fc5"><circle cx="1168.2" cy="812" r="8"/></clipPath><g clip-path="url(#fc5)"><rect x="1160.2" y="804" width="16" height="16" fill="#fff"/><rect x="1160.2" y="804.00" width="16" height="3.300" fill="#ef5350"/><rect x="1160.2" y="810.40" width="16" height="3.300" fill="#ef5350"/><rect x="1160.2" y="816.60" width="16" height="3.300" fill="#ef5350"/><rect x="1160.2" y="804" width="9.500" height="9.600" fill="#1e88e5"/><rect x="1162.40" y="806.70" width="1" height="1" fill="#fff"/><rect x="1164.40" y="806.70" width="1" height="1" fill="#fff"/><rect x="1166.40" y="806.70" width="1" height="1" fill="#fff"/><rect x="1168.40" y="806.70" width="1" height="1" fill="#fff"/><rect x="1162.40" y="809.20" width="1" height="1" fill="#fff"/><rect x="1164.40" y="809.20" width="1" height="1" fill="#fff"/><rect x="1166.40" y="809.20" width="1" height="1" fill="#fff"/><rect x="1168.40" y="809.20" width="1" height="1" fill="#fff"/><rect x="1162.40" y="811.70" width="1" height="1" fill="#fff"/><rect x="1164.40" y="811.70" width="1" height="1" fill="#fff"/><rect x="1166.40" y="811.70" width="1" height="1" fill="#fff"/><rect x="1168.40" y="811.70" width="1" height="1" fill="#fff"/></g><circle cx="1161" cy="812" r="10.100" fill="#fff" stroke="#f44336" stroke-width="1.500"/><clipPath id="fc6"><circle cx="1161" cy="812" r="8"/></clipPath><g clip-path="url(#fc6)"><rect x="1153" y="804" width="16" height="16" fill="#fff"/><rect x="1153" y="804.00" width="16" height="3.300" fill="#ef5350"/><rect x="1153" y="810.40" width="16" height="3.300" fill="#ef5350"/><rect x="1153" y="816.60" width="16" height="3.300" fill="#ef5350"/><rect x="1153" y="804" width="9.500" height="9.600" fill="#1e88e5"/><rect x="1155.20" y="806.70" width="1" height="1" fill="#fff"/><rect x="1157.20" y="806.70" width="1" height="1" fill="#fff"/><rect x="1159.20" y="806.70" width="1" height="1" fill="#fff"/><rect x="1161.20" y="806.70" width="1" height="1" fill="#fff"/><rect x="1155.20" y="809.20" width="1" height="1" fill="#fff"/><rect x="1157.20" y="809.20" width="1" height="1" fill="#fff"/><rect x="1159.20" y="809.20" width="1" height="1" fill="#fff"/><rect x="1161.20" y="809.20" width="1" height="1" fill="#fff"/><rect x="1155.20" y="811.70" width="1" height="1" fill="#fff"/><rect x="1157.20" y="811.70" width="1" height="1" fill="#fff"/><rect x="1159.20" y="811.70" width="1" height="1" fill="#fff"/><rect x="1161.20" y="811.70" width="1" height="1" fill="#fff"/></g><circle cx="1156.3" cy="812" r="10.100" fill="#fff" stroke="#ffeb3b" stroke-width="1.500"/><clipPath id="fc7"><circle cx="1156.3" cy="812" r="8"/></clipPath><g clip-path="url(#fc7)"><rect x="1148.3" y="804" width="16" height="16" fill="#fff"/><rect x="1148.3" y="804.00" width="16" height="3.300" fill="#ef5350"/><rect x="1148.3" y="810.40" width="16" height="3.300" fill="#ef5350"/><rect x="1148.3" y="816.60" width="16" height="3.300" fill="#ef5350"/><rect x="1148.3" y="804" width="9.500" height="9.600" fill="#1e88e5"/><rect x="1150.50" y="806.70" width="1" height="1" fill="#fff"/><rect x="1152.50" y="806.70" width="1" height="1" fill="#fff"/><rect x="1154.50" y="806.70" width="1" height="1" fill="#fff"/><rect x="1156.50" y="806.70" width="1" height="1" fill="#fff"/><rect x="1150.50" y="809.20" width="1" height="1" fill="#fff"/><rect x="1152.50" y="809.20" width="1" height="1" fill="#fff"/><rect x="1154.50" y="809.20" width="1" height="1" fill="#fff"/><rect x="1156.50" y="809.20" width="1" height="1" fill="#fff"/><rect x="1150.50" y="811.70" width="1" height="1" fill="#fff"/><rect x="1152.50" y="811.70" width="1" height="1" fill="#fff"/><rect x="1154.50" y="811.70" width="1" height="1" fill="#fff"/><rect x="1156.50" y="811.70" width="1" height="1" fill="#fff"/></g><circle cx="1097.7" cy="812" r="10.100" fill="#fff" stroke="#ffeb3b" stroke-width="1.500"/><clipPath id="fc8"><circle cx="1097.7" cy="812" r="8"/></clipPath><g clip-path="url(#fc8)"><rect x="1089.7" y="804" width="16" height="16" fill="#fff"/><rect x="1089.7" y="804.00" width="16" height="3.300" fill="#ef5350"/><rect x="1089.7" y="810.40" width="16" height="3.300" fill="#ef5350"/><rect x="1089.7" y="816.60" width="16" height="3.300" fill="#ef5350"/><rect x="1089.7" y="804" width="9.500" height="9.600" fill="#1e88e5"/><rect x="1091.90" y="806.70" width="1" height="1" fill="#fff"/><rect x="1093.90" y="806.70" width="1" height="1" fill="#fff"/><rect x="1095.90" y="806.70" width="1" height="1" fill="#fff"/><rect x="1097.90" y="806.70" width="1" height="1" fill="#fff"/><rect x="1091.90" y="809.20" width="1" height="1" fill="#fff"/><rect x="1093.90" y="809.20" width="1" height="1" fill="#fff"/><rect x="1095.90" y="809.20" width="1" height="1" fill="#fff"/><rect x="1097.90" y="809.20" width="1" height="1" fill="#fff"/><rect x="1091.90" y="811.70" width="1" height="1" fill="#fff"/><rect x="1093.90" y="811.70" width="1" height="1" fill="#fff"/><rect x="1095.90" y="811.70" width="1" height="1" fill="#fff"/><rect x="1097.90" y="811.70" width="1" height="1" fill="#fff"/></g><circle cx="1066.2" cy="812" r="10.100" fill="#fff" stroke="#ff9800" stroke-width="1.500"/><clipPath id="fc9"><circle cx="1066.2" cy="812" r="8"/></clipPath><g clip-path="url(#fc9)"><rect x="1058.2" y="804" width="16" height="16" fill="#fff"/><rect x="1058.2" y="804.00" width="16" height="3.300" fill="#ef5350"/><rect x="1058.2" y="810.40" width="16" height="3.300" fill="#ef5350"/><rect x="1058.2" y="816.60" width="16" height="3.300" fill="#ef5350"/><rect x="1058.2" y="804" width="9.500" height="9.600" fill="#1e88e5"/><rect x="1060.40" y="806.70" width="1" height="1" fill="#fff"/><rect x="1062.40" y="806.70" width="1" height="1" fill="#fff"/><rect x="1064.40" y="806.70" width="1" height="1" fill="#fff"/><rect x="1066.40" y="806.70" width="1" height="1" fill="#fff"/><rect x="1060.40" y="809.20" width="1" height="1" fill="#fff"/><rect x="1062.40" y="809.20" width="1" height="1" fill="#fff"/><rect x="1064.40" y="809.20" width="1" height="1" fill="#fff"/><rect x="1066.40" y="809.20" width="1" height="1" fill="#fff"/><rect x="1060.40" y="811.70" width="1" height="1" fill="#fff"/><rect x="1062.40" y="811.70" width="1" height="1" fill="#fff"/><rect x="1064.40" y="811.70" width="1" height="1" fill="#fff"/><rect x="1066.40" y="811.70" width="1" height="1" fill="#fff"/></g><circle cx="1034.8" cy="812" r="10.100" fill="#fff" stroke="#ff9800" stroke-width="1.500"/><circle cx="1034.8" cy="812" r="8.300" fill="#f0f3fa"/><circle cx="1034.8" cy="812" r="3.500" fill="#ef5350"/><circle cx="983.2" cy="812" r="10.100" fill="#fff" stroke="#ff9800" stroke-width="1.500"/><clipPath id="fc11"><circle cx="983.2" cy="812" r="8"/></clipPath><g clip-path="url(#fc11)"><rect x="975.2" y="804" width="16" height="16" fill="#fff"/><rect x="975.2" y="804.00" width="16" height="3.300" fill="#ef5350"/><rect x="975.2" y="810.40" width="16" height="3.300" fill="#ef5350"/><rect x="975.2" y="816.60" width="16" height="3.300" fill="#ef5350"/><rect x="975.2" y="804" width="9.500" height="9.600" fill="#1e88e5"/><rect x="977.40" y="806.70" width="1" height="1" fill="#fff"/><rect x="979.40" y="806.70" width="1" height="1" fill="#fff"/><rect x="981.40" y="806.70" width="1" height="1" fill="#fff"/><rect x="983.40" y="806.70" width="1" height="1" fill="#fff"/><rect x="977.40" y="809.20" width="1" height="1" fill="#fff"/><rect x="979.40" y="809.20" width="1" height="1" fill="#fff"/><rect x="981.40" y="809.20" width="1" height="1" fill="#fff"/><rect x="983.40" y="809.20" width="1" height="1" fill="#fff"/><rect x="977.40" y="811.70" width="1" height="1" fill="#fff"/><rect x="979.40" y="811.70" width="1" height="1" fill="#fff"/><rect x="981.40" y="811.70" width="1" height="1" fill="#fff"/><rect x="983.40" y="811.70" width="1" height="1" fill="#fff"/></g><circle cx="979.6" cy="812" r="10.100" fill="#fff" stroke="#ffeb3b" stroke-width="1.500"/><clipPath id="fc12"><circle cx="979.6" cy="812" r="8"/></clipPath><g clip-path="url(#fc12)"><rect x="971.6" y="804" width="16" height="16" fill="#fff"/><rect x="971.6" y="804.00" width="16" height="3.300" fill="#ef5350"/><rect x="971.6" y="810.40" width="16" height="3.300" fill="#ef5350"/><rect x="971.6" y="816.60" width="16" height="3.300" fill="#ef5350"/><rect x="971.6" y="804" width="9.500" height="9.600" fill="#1e88e5"/><rect x="973.80" y="806.70" width="1" height="1" fill="#fff"/><rect x="975.80" y="806.70" width="1" height="1" fill="#fff"/><rect x="977.80" y="806.70" width="1" height="1" fill="#fff"/><rect x="979.80" y="806.70" width="1" height="1" fill="#fff"/><rect x="973.80" y="809.20" width="1" height="1" fill="#fff"/><rect x="975.80" y="809.20" width="1" height="1" fill="#fff"/><rect x="977.80" y="809.20" width="1" height="1" fill="#fff"/><rect x="979.80" y="809.20" width="1" height="1" fill="#fff"/><rect x="973.80" y="811.70" width="1" height="1" fill="#fff"/><rect x="975.80" y="811.70" width="1" height="1" fill="#fff"/><rect x="977.80" y="811.70" width="1" height="1" fill="#fff"/><rect x="979.80" y="811.70" width="1" height="1" fill="#fff"/></g></svg>
<div style="position:absolute;left:880px;top:734.500px;width:221px;height:39.500px;border-radius:6px;background:#fff;box-shadow:0 2px 5px rgba(0,0,0,0.22),0 0 1px rgba(0,0,0,0.15)"><div style="position:absolute;left:25px;top:0;width:1px;height:39.500px;background:#eceff5"></div><div style="position:absolute;left:64px;top:0;width:1px;height:39.500px;background:#eceff5"></div><div style="position:absolute;left:103px;top:0;width:1px;height:39.500px;background:#eceff5"></div><div style="position:absolute;left:142px;top:0;width:1px;height:39.500px;background:#eceff5"></div><div style="position:absolute;left:181px;top:0;width:1px;height:39.500px;background:#eceff5"></div></div>
<svg style="left:0;top:0" width="1490" height="786" viewBox="0 39 1490 786"><rect x="889.3" y="787.2" width="2" height="2" fill="#c1c4cd"/><rect x="889.3" y="792.2" width="2" height="2" fill="#c1c4cd"/><rect x="889.3" y="797.2" width="2" height="2" fill="#c1c4cd"/><rect x="895.5" y="787.2" width="2" height="2" fill="#c1c4cd"/><rect x="895.5" y="792.2" width="2" height="2" fill="#c1c4cd"/><rect x="895.5" y="797.2" width="2" height="2" fill="#c1c4cd"/><path d="M916.500 784.500H933.500V801.500H916.500z" stroke="#131722" fill="none" stroke-width="1.100"/><circle cx="916.5" cy="784.5" r="2" fill="#fff" stroke="#131722" stroke-width="1.100"/><circle cx="933.5" cy="784.5" r="2" fill="#fff" stroke="#131722" stroke-width="1.100"/><circle cx="916.5" cy="801.5" r="2" fill="#fff" stroke="#131722" stroke-width="1.100"/><circle cx="933.5" cy="801.5" r="2" fill="#fff" stroke="#131722" stroke-width="1.100"/><path d="M954.500 785.500H974M954.500 791.600H972.500M954.500 801.500H974" stroke="#131722" fill="none" stroke-width="1.100"/><path d="M958.500 793.300L973 800.300" stroke="#131722" stroke-width="1.200" stroke-dasharray="1 2.600" fill="none"/><circle cx="954.5" cy="785.5" r="2" fill="#fff" stroke="#131722" stroke-width="1.100"/><circle cx="954.5" cy="791.6" r="2" fill="#fff" stroke="#131722" stroke-width="1.100"/><circle cx="972.4" cy="791.6" r="2" fill="#fff" stroke="#131722" stroke-width="1.100"/><circle cx="954.5" cy="801.5" r="2" fill="#fff" stroke="#131722" stroke-width="1.100"/><path d="M993.500 785.500H1013M993.500 795.500H1011.500M993.500 801.500H1013" stroke="#131722" fill="none" stroke-width="1.100"/><path d="M997.800 793.500L1012 786.700" stroke="#131722" stroke-width="1.200" stroke-dasharray="1 2.600" fill="none"/><circle cx="993.5" cy="785.5" r="2" fill="#fff" stroke="#131722" stroke-width="1.100"/><circle cx="993.5" cy="795.5" r="2" fill="#fff" stroke="#131722" stroke-width="1.100"/><circle cx="1011.6" cy="795.5" r="2" fill="#fff" stroke="#131722" stroke-width="1.100"/><circle cx="993.5" cy="801.5" r="2" fill="#fff" stroke="#131722" stroke-width="1.100"/><path d="M1031 783.500H1053M1031 789.500H1052.500M1031 795.500H1053M1031.500 801.500H1053" stroke="#131722" fill="none" stroke-width="1.100"/><circle cx="1052.7" cy="789.5" r="2" fill="#fff" stroke="#131722" stroke-width="1.100"/><circle cx="1031.4" cy="801.5" r="2" fill="#fff" stroke="#131722" stroke-width="1.100"/><path d="M1072.500 784.500H1090.500V797.500H1076.500L1072.500 801.500z" stroke="#131722" fill="none" stroke-width="1.100"/></svg>
<div id="legend"><span class="t" style="left:5.10px;top:5.96px;font-size:16px;line-height:21px;color:#2a2e39;transform:scaleX(0.9384);transform-origin:0 50%;">U.S.</span>
<span class="t" style="left:39.60px;top:5.96px;font-size:16px;line-height:21px;color:#2a2e39;letter-spacing:-0.215px;">Dollar</span>
<span class="t" style="left:88.70px;top:5.96px;font-size:16px;line-height:21px;color:#2a2e39;letter-spacing:-0.045px;">/</span>
<span class="t" style="left:100.50px;top:5.96px;font-size:16px;line-height:21px;color:#2a2e39;transform:scaleX(0.9482);transform-origin:0 50%;">Japanese</span>
<span class="t" style="left:171.30px;top:5.96px;font-size:16px;line-height:21px;color:#2a2e39;transform:scaleX(0.8741);transform-origin:0 50%;">Yen</span>
<span class="t" style="left:199.30px;top:5.96px;font-size:16px;line-height:21px;color:#2a2e39;letter-spacing:-0.028px;">·</span>
<span class="t" style="left:207.60px;top:5.96px;font-size:16px;line-height:21px;color:#2a2e39;transform:scaleX(0.9327);transform-origin:0 50%;">1h</span>
<span class="t" style="left:229.00px;top:5.96px;font-size:16px;line-height:21px;color:#2a2e39;letter-spacing:-0.028px;">·</span>
<span class="t" style="left:236.30px;top:5.96px;font-size:16px;line-height:21px;color:#2a2e39;transform:scaleX(0.8560);transform-origin:0 50%;">FXCM</span>
<div style="position:absolute;left:290px;top:7px;width:40px;height:18px;border-radius:9px;overflow:hidden;background:#def1ee"><div style="position:absolute;left:20px;top:0;width:20px;height:18px;background:#f9c6d8"></div><div style="position:absolute;left:6.900px;top:4.900px;width:8px;height:8px;border-radius:50%;background:#009688"></div></div>
<span class="t" style="left:314.90px;top:6.10px;font-size:15px;line-height:20px;color:#c2185b;font-weight:bold;">≈</span>
<span class="t" style="left:346.00px;top:9.20px;font-size:13px;line-height:17px;color:#5d606b;">O</span>
<span class="t" style="left:355.80px;top:9.20px;font-size:13px;line-height:17px;color:#26a69a;letter-spacing:-0.147px;">113.336</span>
<span class="t" style="left:407.30px;top:9.20px;font-size:13px;line-height:17px;color:#5d606b;">H</span>
<span class="t" style="left:416.60px;top:9.20px;font-size:13px;line-height:17px;color:#26a69a;letter-spacing:-0.147px;">113.391</span>
<span class="t" style="left:469.00px;top:9.20px;font-size:13px;line-height:17px;color:#5d606b;">L</span>
<span class="t" style="left:476.00px;top:9.20px;font-size:13px;line-height:17px;color:#26a69a;letter-spacing:-0.147px;">113.295</span>
<span class="t" style="left:528.00px;top:9.20px;font-size:13px;line-height:17px;color:#5d606b;">C</span>
<span class="t" style="left:537.00px;top:9.20px;font-size:13px;line-height:17px;color:#26a69a;letter-spacing:-0.147px;">113.370</span>
<span class="t" style="left:589.00px;top:9.20px;font-size:13px;line-height:17px;color:#26a69a;transform:scaleX(0.9346);transform-origin:0 50%;">+0.034</span>
<span class="t" style="left:631.50px;top:9.20px;font-size:13px;line-height:17px;color:#26a69a;transform:scaleX(0.9132);transform-origin:0 50%;">(+0.03%)</span>
<div style="position:absolute;left:4px;top:32px;width:61px;height:24px;border:1px solid #f44336;border-radius:4px"></div>
<div style="position:absolute;left:96px;top:32px;width:61px;height:24px;border:1px solid #2962ff;border-radius:4px"></div>
<span class="t" style="left:12.00px;top:35.70px;font-size:13px;line-height:17px;color:#f44336;">113.37</span>
<span class="t" style="left:51.70px;top:35.26px;font-size:10.5px;line-height:14px;color:#f44336;">1</span>
<span class="t" style="left:72.60px;top:37.39px;font-size:11px;line-height:14px;color:#50535e;letter-spacing:0.069px;">0.2</span>
<span class="t" style="left:104.40px;top:35.70px;font-size:13px;line-height:17px;color:#2962ff;">113.37</span>
<span class="t" style="left:143.50px;top:35.26px;font-size:10.5px;line-height:14px;color:#2962ff;">3</span></div>
</div>
<div id="paxis"><div class="bl"></div>
<span class="t" style="left:10.50px;top:406.14px;font-size:12px;line-height:16px;color:#131722;letter-spacing:-0.212px;">113.400</span>
<span class="t" style="left:10.50px;top:668.14px;font-size:12px;line-height:16px;color:#131722;letter-spacing:-0.212px;">112.000</span>
<span class="t" style="left:10.50px;top:705.34px;font-size:12px;line-height:16px;color:#131722;letter-spacing:-0.085px;">111.800</span>
<div class="pl" style="top:411px;height:33px;background:#26a69a"></div>
<div class="pl" style="top:-8px;height:19px;background:#f44336"></div>
<span class="t" style="left:10.10px;top:-7.16px;font-size:12px;line-height:16px;color:#fff;font-weight:bold;letter-spacing:-0.145px;">113.995</span>
<div class="pl" style="top:9px;height:19px;background:#f44336"></div>
<span class="t" style="left:10.10px;top:9.84px;font-size:12px;line-height:16px;color:#fff;font-weight:bold;letter-spacing:-0.145px;">113.980</span>
<div class="pl" style="top:26px;height:19px;background:#787b86"></div>
<span class="t" style="left:10.10px;top:26.84px;font-size:12px;line-height:16px;color:#fff;font-weight:bold;letter-spacing:-0.145px;">113.953</span>
<div class="pl" style="top:43px;height:19px;background:#f44336"></div>
<span class="t" style="left:10.10px;top:43.84px;font-size:12px;line-height:16px;color:#fff;font-weight:bold;letter-spacing:-0.145px;">113.946</span>
<div class="pl" style="top:60px;height:19px;background:#009688"></div>
<span class="t" style="left:10.10px;top:60.84px;font-size:12px;line-height:16px;color:#fff;font-weight:bold;letter-spacing:-0.145px;">113.933</span>
<div class="pl" style="top:77px;height:19px;background:#009688"></div>
<span class="t" style="left:10.10px;top:77.84px;font-size:12px;line-height:16px;color:#fff;font-weight:bold;letter-spacing:-0.145px;">113.931</span>
<div class="pl" style="top:94px;height:19px;background:#009688"></div>
<span class="t" style="left:10.10px;top:94.84px;font-size:12px;line-height:16px;color:#fff;font-weight:bold;letter-spacing:-0.145px;">113.929</span>
<div class="pl" style="top:111px;height:19px;background:#787b86"></div>
<span class="t" style="left:10.10px;top:111.84px;font-size:12px;line-height:16px;color:#fff;font-weight:bold;letter-spacing:-0.145px;">113.928</span>
<div class="pl" style="top:128px;height:19px;background:#f44336"></div>
<span class="t" style="left:10.10px;top:128.84px;font-size:12px;line-height:16px;color:#fff;font-weight:bold;letter-spacing:-0.145px;">113.922</span>
<div class="pl" style="top:145px;height:19px;background:#787b86"></div>
<span class="t" style="left:10.10px;top:145.84px;font-size:12px;line-height:16px;color:#fff;font-weight:bold;letter-spacing:-0.145px;">113.866</span>
<div class="pl" style="top:162px;height:19px;background:#787b86"></div>
<span class="t" style="left:10.10px;top:162.84px;font-size:12px;line-height:16px;color:#fff;font-weight:bold;letter-spacing:-0.145px;">113.864</span>
<div class="pl" style="top:179px;height:19px;background:#787b86"></div>
<span class="t" style="left:10.10px;top:179.84px;font-size:12px;line-height:16px;color:#fff;font-weight:bold;letter-spacing:-0.145px;">113.830</span>
<div class="pl" style="top:196px;height:19px;background:#f44336"></div>
<span class="t" style="left:10.10px;top:196.84px;font-size:12px;line-height:16px;color:#fff;font-weight:bold;letter-spacing:-0.145px;">113.828</span>
<div class="pl" style="top:213px;height:19px;background:#009688"></div>
<span class="t" style="left:10.10px;top:213.84px;font-size:12px;line-height:16px;color:#fff;font-weight:bold;letter-spacing:-0.145px;">113.806</span>
<div class="pl" style="top:230px;height:19px;background:#787b86"></div>
<span class="t" style="left:10.10px;top:230.84px;font-size:12px;line-height:16px;color:#fff;font-weight:bold;letter-spacing:-0.145px;">113.802</span>
<div class="pl" style="top:247px;height:19px;background:#009688"></div>
<span class="t" style="left:10.10px;top:247.84px;font-size:12px;line-height:16px;color:#fff;font-weight:bold;letter-spacing:-0.145px;">113.795</span>
<div class="pl" style="top:264px;height:19px;background:#787b86"></div>
<span class="t" style="left:10.10px;top:264.84px;font-size:12px;line-height:16px;color:#fff;font-weight:bold;letter-spacing:-0.145px;">113.755</span>
<div class="pl" style="top:281px;height:19px;background:#f44336"></div>
<span class="t" style="left:10.10px;top:281.84px;font-size:12px;line-height:16px;color:#fff;font-weight:bold;letter-spacing:-0.145px;">113.738</span>
<div class="pl" style="top:298px;height:19px;background:#f44336"></div>
<span class="t" style="left:10.10px;top:298.84px;font-size:12px;line-height:16px;color:#fff;font-weight:bold;letter-spacing:-0.145px;">113.657</span>
<div class="pl" style="top:315px;height:19px;background:#009688"></div>
<span class="t" style="left:10.10px;top:315.84px;font-size:12px;line-height:16px;color:#fff;font-weight:bold;letter-spacing:-0.145px;">113.655</span>
<div class="pl" style="top:332px;height:19px;background:#009688"></div>
<span class="t" style="left:10.10px;top:332.84px;font-size:12px;line-height:16px;color:#fff;font-weight:bold;letter-spacing:-0.145px;">113.655</span>
<div class="pl" style="top:349px;height:19px;background:#009688"></div>
<span class="t" style="left:10.10px;top:349.84px;font-size:12px;line-height:16px;color:#fff;font-weight:bold;letter-spacing:-0.145px;">113.609</span>
<div class="pl" style="top:366px;height:17px;background:#009688"></div>
<span class="t" style="left:10.10px;top:366.84px;font-size:12px;line-height:16px;color:#fff;font-weight:bold;letter-spacing:-0.145px;">113.609</span>
<div class="pl" style="top:442px;height:19px;background:#787b86"></div>
<span class="t" style="left:10.10px;top:442.84px;font-size:12px;line-height:16px;color:#fff;font-weight:bold;letter-spacing:-0.145px;">113.362</span>
<div class="pl" style="top:459px;height:19px;background:#787b86"></div>
<span class="t" style="left:10.10px;top:459.84px;font-size:12px;line-height:16px;color:#fff;font-weight:bold;letter-spacing:-0.145px;">113.359</span>
<div class="pl" style="top:476px;height:19px;background:#787b86"></div>
<span class="t" style="left:10.10px;top:476.84px;font-size:12px;line-height:16px;color:#fff;font-weight:bold;letter-spacing:-0.145px;">113.335</span>
<div class="pl" style="top:493px;height:19px;background:#787b86"></div>
<span class="t" style="left:10.10px;top:493.84px;font-size:12px;line-height:16px;color:#fff;font-weight:bold;letter-spacing:-0.145px;">113.333</span>
<div class="pl" style="top:510px;height:19px;background:#009688"></div>
<span class="t" style="left:10.10px;top:510.84px;font-size:12px;line-height:16px;color:#fff;font-weight:bold;letter-spacing:-0.145px;">113.315</span>
<div class="pl" style="top:527px;height:19px;background:#009688"></div>
<span class="t" style="left:10.10px;top:527.84px;font-size:12px;line-height:16px;color:#fff;font-weight:bold;letter-spacing:-0.145px;">113.290</span>
<div class="pl" style="top:544px;height:19px;background:#f44336"></div>
<span class="t" style="left:10.10px;top:544.84px;font-size:12px;line-height:16px;color:#fff;font-weight:bold;letter-spacing:-0.145px;">113.184</span>
<div class="pl" style="top:561px;height:19px;background:#f44336"></div>
<span class="t" style="left:10.10px;top:561.84px;font-size:12px;line-height:16px;color:#fff;font-weight:bold;letter-spacing:-0.145px;">113.180</span>
<div class="pl" style="top:578px;height:19px;background:#f44336"></div>
<span class="t" style="left:10.10px;top:578.84px;font-size:12px;line-height:16px;color:#fff;font-weight:bold;letter-spacing:-0.145px;">113.132</span>
<div class="pl" style="top:595px;height:19px;background:#f44336"></div>
<span class="t" style="left:10.10px;top:595.84px;font-size:12px;line-height:16px;color:#fff;font-weight:bold;letter-spacing:-0.145px;">113.130</span>
<div class="pl" style="top:612px;height:19px;background:#787b86"></div>
<span class="t" style="left:10.10px;top:612.84px;font-size:12px;line-height:16px;color:#fff;font-weight:bold;letter-spacing:-0.145px;">112.682</span>
<div class="pl" style="top:629px;height:17px;background:#f44336"></div>
<span class="t" style="left:10.10px;top:629.84px;font-size:12px;line-height:16px;color:#fff;font-weight:bold;letter-spacing:-0.145px;">112.480</span>
<div class="pl" style="top:654px;height:17px;background:#f44336"></div>
<span class="t" style="left:10.10px;top:654.84px;font-size:12px;line-height:16px;color:#fff;font-weight:bold;letter-spacing:-0.145px;">112.072</span>
<div class="pl" style="top:683px;height:17px;background:#787b86"></div>
<span class="t" style="left:10.10px;top:683.84px;font-size:12px;line-height:16px;color:#fff;font-weight:bold;letter-spacing:-0.050px;">111.920</span>
<div class="pl" style="top:716px;height:19px;background:#009688"></div>
<span class="t" style="left:10.10px;top:716.84px;font-size:12px;line-height:16px;color:#fff;font-weight:bold;letter-spacing:-0.050px;">111.746</span>
<div class="pl" style="top:733px;height:19px;background:#009688"></div>
<span class="t" style="left:10.10px;top:733.84px;font-size:12px;line-height:16px;color:#fff;font-weight:bold;letter-spacing:-0.050px;">111.658</span>
<div class="pl" style="top:750px;height:19px;background:#009688"></div>
<span class="t" style="left:10.10px;top:750.84px;font-size:12px;line-height:16px;color:#fff;font-weight:bold;letter-spacing:-0.050px;">111.586</span>
<div class="pl" style="top:767px;height:19px;background:#f44336"></div>
<span class="t" style="left:10.10px;top:767.84px;font-size:12px;line-height:16px;color:#fff;font-weight:bold;letter-spacing:-0.050px;">111.537</span>
<div class="pl" style="top:784px;height:17px;background:#787b86"></div>
<span class="t" style="left:10.10px;top:784.84px;font-size:12px;line-height:16px;color:#fff;font-weight:bold;letter-spacing:-0.050px;">111.500</span>
<span class="t" style="left:10.10px;top:411.94px;font-size:12px;line-height:16px;color:#fff;font-weight:bold;letter-spacing:-0.145px;">113.370</span>
<span class="t" style="left:10.10px;top:425.94px;font-size:12px;line-height:16px;color:rgba(255,255,255,0.8);font-weight:bold;letter-spacing:-0.258px;">25:47</span>
<div style="position:absolute;left:13.900px;top:6.300px;width:36px;height:19.700px;border-radius:4px;background:#fff;border:1px solid #e6e8ef;box-shadow:0 0 2px rgba(0,0,0,0.08)"></div>
<span class="t" style="left:18.30px;top:8.84px;font-size:12px;line-height:16px;color:#131722;transform:scaleX(0.8860);transform-origin:0 50%;">JPY</span>
<svg style="position:absolute;left:40px;top:14.300px" width="7" height="5" viewBox="0 0 7 5"><path d="M0.800 1l2.700 2.500 2.700-2.500" fill="none" stroke="#131722" stroke-width="1.300"/></svg>
</div>
<div id="taxis">
<span class="t" style="left:67.66px;top:4.64px;font-size:12px;line-height:16px;color:#131722;">7</span>
<span class="t" style="left:162.04px;top:4.64px;font-size:12px;line-height:16px;color:#131722;">8</span>
<span class="t" style="left:256.42px;top:4.64px;font-size:12px;line-height:16px;color:#131722;">9</span>
<span class="t" style="left:347.47px;top:4.64px;font-size:12px;line-height:16px;color:#131722;">10</span>
<span class="t" style="left:441.85px;top:4.64px;font-size:12px;line-height:16px;color:#131722;-webkit-text-stroke:0.200px #131722;">13</span>
<span class="t" style="left:536.23px;top:4.64px;font-size:12px;line-height:16px;color:#131722;">14</span>
<span class="t" style="left:630.61px;top:4.64px;font-size:12px;line-height:16px;color:#131722;">15</span>
<span class="t" style="left:724.99px;top:4.64px;font-size:12px;line-height:16px;color:#131722;">16</span>
<span class="t" style="left:819.37px;top:4.64px;font-size:12px;line-height:16px;color:#131722;">17</span>
<span class="t" style="left:913.75px;top:4.64px;font-size:12px;line-height:16px;color:#131722;font-weight:bold;">20</span>
<span class="t" style="left:1008.13px;top:4.64px;font-size:12px;line-height:16px;color:#131722;">21</span>
<span class="t" style="left:1102.51px;top:4.64px;font-size:12px;line-height:16px;color:#131722;">22</span>
<span class="t" style="left:1196.89px;top:4.64px;font-size:12px;line-height:16px;color:#131722;">23</span>
<span class="t" style="left:1291.27px;top:4.64px;font-size:12px;line-height:16px;color:#131722;">24</span>
<span class="t" style="left:1385.65px;top:4.64px;font-size:12px;line-height:16px;color:#131722;-webkit-text-stroke:0.200px #131722;">27</span>
<div style="position:absolute;left:0;top:0;width:1490px;height:27px;overflow:hidden"><span class="t" style="left:1480.03px;top:4.64px;font-size:12px;line-height:16px;color:#131722;">28</span></div>
<div style="position:absolute;left:1490px;top:0;width:1px;height:27px;background:#e0e3eb"></div>
<svg style="position:absolute;left:1513px;top:4px" width="18" height="18" viewBox="0 0 18 18"><g stroke="#131722" fill="none" stroke-width="1.100"><circle cx="9" cy="9" r="4.600"/><path d="M9 1.800v2.200M9 14v2.200M1.800 9h2.200M14 9h2.200M3.900 3.900l1.600 1.600M12.500 12.500l1.600 1.600M3.900 14.100l1.600-1.600M12.500 5.500l1.600-1.600"/></g></svg>
</div>
<div id="bottom"><div style="position:absolute;left:296px;top:8px;width:1px;height:6px;background:#e0e3eb"></div><svg style="position:absolute;left:312px;top:9px" width="20" height="5" viewBox="312 863 20 5"><path d="M314.500 869v-1a1.500 1.500 0 0 1 1.500-1.500h12.500a1.500 1.500 0 0 1 1.500 1.500v1M318.500 865v3M325.500 865v3" stroke="#131722" stroke-width="1.100" fill="none"/></svg></div>
<div id="toolbar">
<div class="sep" style="left:96px"></div>
<div class="sep" style="left:213px"></div>
<div class="sep" style="left:252px"></div>
<div class="sep" style="left:354px"></div>
<div class="sep" style="left:462px"></div>
<div class="sep" style="left:570px"></div>
<div class="sep" style="left:680px"></div>
<div class="sep" style="left:757px"></div>
<div class="sep" style="left:844px"></div>
<div class="sep" style="left:907px"></div>
<div class="sep" style="left:1197px"></div>
<div class="sep" style="left:1236px"></div>
<div class="sep" style="left:1357px"></div>
<div class="sep" style="left:1396px"></div>
<div class="sep" style="left:1435px"></div>
<span class="t" style="left:5.20px;top:10.15px;font-size:14px;line-height:18px;color:#131722;font-weight:bold;transform:scaleX(0.8693);transform-origin:0 50%;">USDJPY</span>
<span class="t" style="left:105.60px;top:10.35px;font-size:14px;line-height:18px;color:#131722;letter-spacing:-0.412px;">15m</span>
<span class="t" style="left:144.00px;top:10.35px;font-size:14px;line-height:18px;color:#2962ff;transform:scaleX(0.8798);transform-origin:0 50%;">1h</span>
<span class="t" style="left:169.70px;top:10.35px;font-size:14px;line-height:18px;color:#131722;letter-spacing:-0.336px;">4h</span>
<span class="t" style="left:288.40px;top:10.15px;font-size:14px;line-height:18px;color:#131722;letter-spacing:-0.369px;">Compare</span>
<span class="t" style="left:390.10px;top:10.15px;font-size:14px;line-height:18px;color:#131722;letter-spacing:0.030px;">Indicators</span>
<span class="t" style="left:498.30px;top:10.15px;font-size:14px;line-height:18px;color:#131722;letter-spacing:-0.203px;">Financials</span>
<span class="t" style="left:606.20px;top:10.15px;font-size:14px;line-height:18px;color:#131722;letter-spacing:-0.090px;">Templates</span>
<span class="t" style="left:715.80px;top:10.15px;font-size:14px;line-height:18px;color:#131722;letter-spacing:0.343px;">Alert</span>
<span class="t" style="left:792.60px;top:10.15px;font-size:14px;line-height:18px;color:#131722;transform:scaleX(0.9339);transform-origin:0 50%;">Replay</span>
<span class="t" style="left:1272.50px;top:10.15px;font-size:14px;line-height:18px;color:#131722;transform:scaleX(0.9456);transform-origin:0 50%;">Unnamed</span>
<div id="publish"></div>
<span class="t" style="left:1490.30px;top:9.80px;font-size:15px;line-height:20px;color:#fff;letter-spacing:-0.257px;-webkit-text-stroke:0.250px #fff;">Publish</span>
<svg style="left:199px;top:14px;color:#131722" width="8" height="10" viewBox="0 0 8 10"><path d="M0.5 3.5l3.5 3.5 3.5-3.5" fill="none" stroke="currentColor" stroke-width="1.1"/></svg>
<svg style="left:219px;top:5px;color:#131722" width="28" height="28" viewBox="0 0 28 28"><g fill="currentColor"><path d="M17 11v6h3v-6h-3zm-.5-1h4a.5.5 0 0 1 .5.5v7a.5.5 0 0 1-.5.5h-4a.5.5 0 0 1-.5-.5v-7a.5.5 0 0 1 .5-.5z"/><path d="M18 7h1v3.500h-1zm0 10.500h1V21h-1z"/><path d="M9 8v12h3V8H9zm-.5-1h4a.5.5 0 0 1 .5.5v13a.5.5 0 0 1-.5.5h-4a.5.5 0 0 1-.5-.5v-13a.5.5 0 0 1 .5-.5z"/><path d="M10 4h1v3.500h-1zm0 16.500h1V24h-1z"/></g></svg>
<svg style="left:258px;top:5px;color:#131722" width="28" height="28" viewBox="0 0 28 28"><g fill="currentColor"><path d="M13.500 6a8.500 8.500 0 1 0 0 17 8.500 8.500 0 0 0 0-17zM4 14.500a9.500 9.500 0 1 1 19 0 9.500 9.500 0 0 1-19 0z"/><path d="M9 14h4v-4h1v4h4v1h-4v4h-1v-4H9v-1z"/></g></svg>
<svg style="left:360px;top:5px;color:#131722" width="28" height="28" viewBox="0 0 28 28"><path stroke="currentColor" fill="none" d="M9 11.500h7M17.500 8a2.500 2.500 0 0 0-5 0v11a2.500 2.500 0 0 1-5 0"/><path stroke="currentColor" stroke-width="1.350" fill="none" d="M20 17l-5 5M15 17l5 5"/></svg>
<svg style="left:468px;top:5px;color:#131722" width="28" height="28" viewBox="0 0 28 28"><path stroke="currentColor" fill="none" stroke-linejoin="round" d="M5.500 21.500v-5h4v5M9.500 16.500v-6h4v11M13.500 13.500h4v8M17.500 13.500v-6h4v14h-16"/></svg>
<svg style="left:577px;top:5px;color:#131722" width="28" height="28" viewBox="0 0 28 28"><path stroke="currentColor" stroke-width="1.150" fill="none" stroke-linejoin="round" d="M4.900 11.600l4.400-4.300 6.400 4.100 6.300-5.300"/><path stroke="currentColor" fill="none" d="M5.500 18v4M9.500 14v8M13.500 16v6M17.500 18v4M21.500 14v8"/></svg>
<svg style="left:686px;top:5px;color:#131722" width="28" height="28" viewBox="0 0 28 28"><path stroke="currentColor" fill="none" d="M21.500 14.500a8 8 0 1 0-8 8M13.500 9.200v5.300h-3.500M5.500 12A3.700 3.700 0 0 1 10.900 6.300M16.100 6.300A3.700 3.700 0 0 1 21.500 12M19.500 16.100v8.700M15 20.500h9"/></svg>
<svg style="left:766px;top:5px;color:#131722" width="28" height="28" viewBox="0 0 28 28"><path stroke="currentColor" fill="none" stroke-linejoin="round" d="M10.500 9.300v10.400L4.500 14.500zM18.500 9.300v10.400L12.500 14.500z"/></svg>
<svg style="left:851px;top:5px;color:#131722" width="28" height="28" viewBox="0 0 28 28"><path stroke="currentColor" stroke-width="1.150" fill="none" d="M7.700 9.200L4.400 12.500l3.300 3.300M4.400 12.500h7.100a5 5 0 0 1 5 5v1.200"/></svg>
<svg style="left:879px;top:5px;color:#c5c8d0" width="28" height="28" viewBox="0 0 28 28"><path stroke="currentColor" stroke-width="1.150" fill="none" d="M13.300 9.200l3.300 3.300-3.300 3.300M16.600 12.500h-7.100a5 5 0 0 0-5 5v1.200"/></svg>
<svg style="left:1203px;top:5px;color:#131722" width="28" height="28" viewBox="0 0 28 28"><rect x="5.500" y="6.500" width="18" height="16" rx="2.200" fill="none" stroke="currentColor"/></svg>
<svg style="left:1241px;top:5px;color:#131722" width="28" height="28" viewBox="0 0 28 28"><path stroke="currentColor" fill="none" stroke-dasharray="3.700 2.300" stroke-dashoffset="-1" d="M7 21.500H23A3.900 3.900 0 0 0 24.500 14.200A9.800 9.800 0 0 0 5.800 12A5.200 5.200 0 0 0 7 21.500z"/></svg>
<svg style="left:1343px;top:14px;color:#131722" width="8" height="10" viewBox="0 0 8 10"><path d="M0.500 3.500l3.500 3.500 3.500-3.500" fill="none" stroke="currentColor" stroke-width="1.100"/></svg>
<svg style="left:1363px;top:5px;color:#131722" width="28" height="28" viewBox="0 0 28 28"><g stroke="currentColor" fill="none" stroke-linejoin="round"><circle cx="14" cy="14" r="2.400"/><path d="M11.96 7.41L12.25 4.66L15.75 4.66L16.04 7.41A6.9 6.9 0 0 1 17.22 7.90L19.37 6.16L21.84 8.63L20.10 10.78A6.9 6.9 0 0 1 20.59 11.96L23.34 12.25L23.34 15.75L20.59 16.04A6.9 6.9 0 0 1 20.10 17.22L21.84 19.37L19.37 21.84L17.22 20.10A6.9 6.9 0 0 1 16.04 20.59L15.75 23.34L12.25 23.34L11.96 20.59A6.9 6.9 0 0 1 10.78 20.10L8.63 21.84L6.16 19.37L7.90 17.22A6.9 6.9 0 0 1 7.41 16.04L4.66 15.75L4.66 12.25L7.41 11.96A6.9 6.9 0 0 1 7.90 10.78L6.16 8.63L8.63 6.16L10.78 7.90A6.9 6.9 0 0 1 11.96 7.41z"/></g></svg>
<svg style="left:1402px;top:5px;color:#131722" width="28" height="28" viewBox="0 0 28 28"><path stroke="currentColor" fill="none" d="M6.500 11v-4.500h4.500M6.500 6.500l5 5M17 6.500h4.500v4.500M21.500 6.500l-5 5M6.500 17v4.500h4.500M6.500 21.500l5-5M17 21.500h4.500v-4.500M21.500 21.500l-5-5"/></svg>
<svg style="left:1440px;top:5px;color:#131722" width="28" height="28" viewBox="0 0 28 28"><g stroke="currentColor" fill="none"><path d="M6.500 7.500h3.200l1.300-2h7l1.300 2h3.200a2 2 0 0 1 2 2v10a2 2 0 0 1-2 2h-16a2 2 0 0 1-2-2v-10a2 2 0 0 1 2-2z"/><circle cx="14.500" cy="14.400" r="4"/></g></svg>
</div>
<div style="position:absolute;left:1550px;top:25px;width:1px;height:186px;background:#0c0e15;z-index:9"></div>
</body></html>
